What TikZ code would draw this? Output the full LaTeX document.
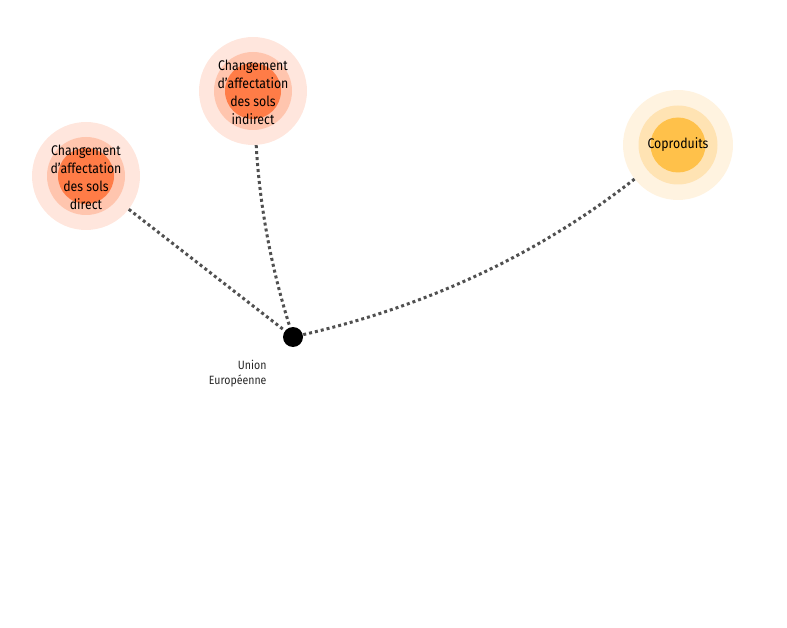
\documentclass[tikz,border=0pt]{standalone}
\usepackage{fontspec}
\setmainfont{Fira Sans}[FakeStretch=0.88]
\definecolor{redout}{HTML}{FFE6DD}
\definecolor{redmid}{HTML}{FFC5AE}
\definecolor{redin}{HTML}{FF7C47}
\definecolor{yelout}{HTML}{FFF3E0}
\definecolor{yelmid}{HTML}{FFE3B3}
\definecolor{yelin}{HTML}{FFC14A}
\definecolor{lien}{HTML}{505050}
\tikzset{
  halo/.style={circle, inner sep=0pt, minimum size=#1},
  lbl/.style={align=center, font=\fontsize{14}{18}\selectfont, text=black},
  lienpts/.style={lien, line width=3pt, dash pattern=on 3pt off 3pt}
}
\begin{document}
\begin{tikzpicture}[x=1pt,y=-1pt]
\useasboundingbox (0,0) rectangle (787,628);

% changement direct
\node[halo=108, fill=redout] (cdir) at (86,176) {};
\node[halo=78, fill=redmid] at (86,176) {};
\node[halo=56, fill=redin] at (86,176) {};
\node[lbl] (cdirt) at (86,177) {Changement\\d'affectation\\des sols\\direct};

% changement indirect
\node[halo=108, fill=redout] (cind) at (253,91) {};
\node[halo=78, fill=redmid] at (253,91) {};
\node[halo=56, fill=redin] at (253,91) {};
\node[lbl] (cindt) at (253,92) {Changement\\d'affectation\\des sols\\indirect};

% coproduits
\node[halo=110, fill=yelout] (cprod) at (678,145) {};
\node[halo=79, fill=yelmid] at (678,145) {};
\node[halo=55, fill=yelin] at (678,145) {};
\node[lbl] (cprodt) at (678,145) {Coproduits};

% union europeenne
\node[halo=20, fill=black] (ue) at (293,337) {};
\node[align=right, anchor=north east, font=\fontsize{12}{15}\selectfont, text=black!85] (uet) at (270,357) {Union\\Européenne};

\draw[lienpts] (cdir) -- (ue);
\draw[lienpts] (cind) .. controls (260,210) and (272,270) .. (ue);
\draw[lienpts] (cprod) .. controls (535,257) and (423,307) .. (ue);
\end{tikzpicture}
\end{document}
